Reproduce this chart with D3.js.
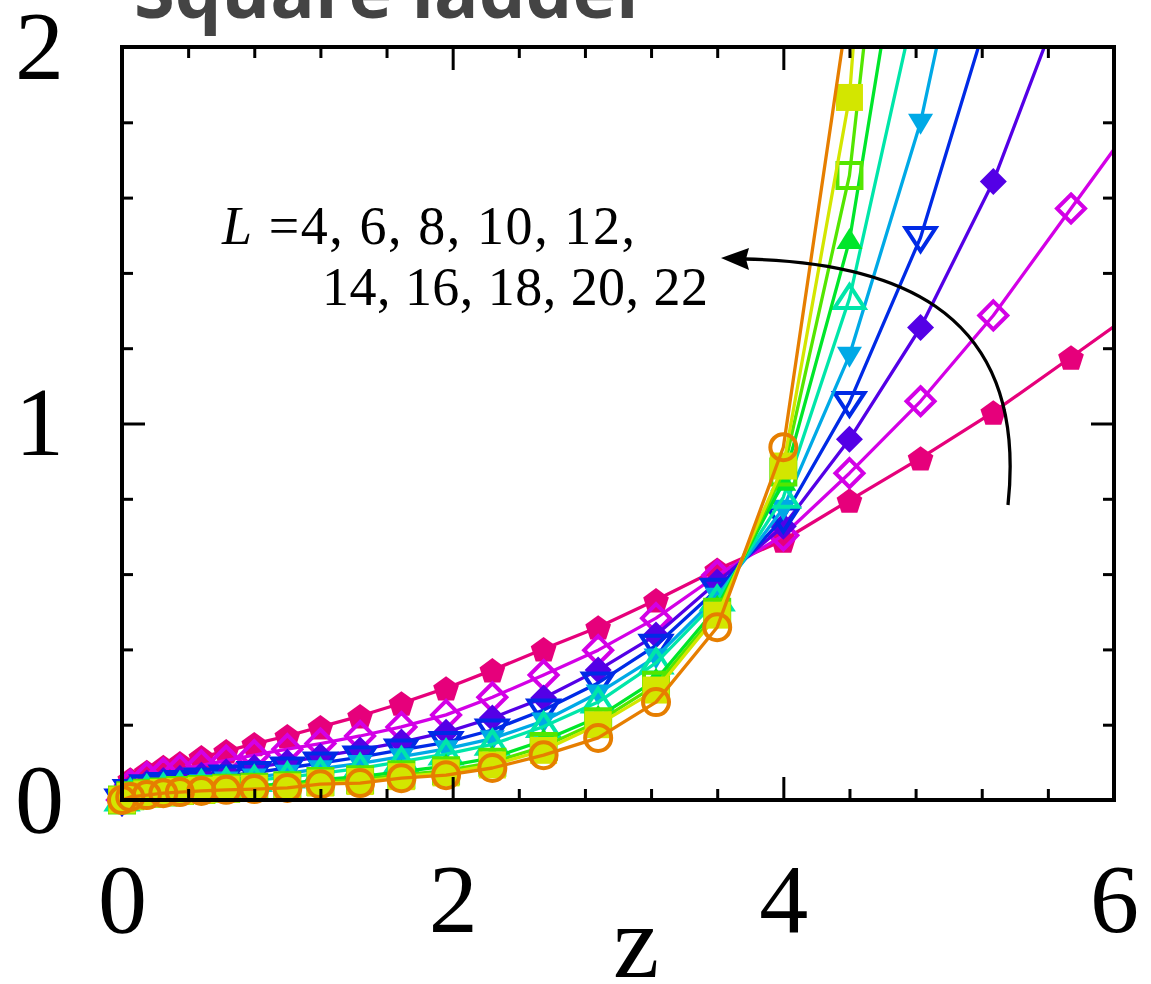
<!DOCTYPE html>
<html>
<head>
<meta charset="utf-8">
<script src="https://cdn.jsdelivr.net/npm/d3@7"></script>
<style>
  body { margin: 0; background: #fff; }
  svg { display: block; }
</style>
</head>
<body>
<svg id="chart" width="1151" height="984"></svg>
<script>
// fugacity grid shared by every ladder width
const zValues = [0, 0.05, 0.15, 0.25, 0.35, 0.48, 0.63, 0.80, 1.00, 1.20, 1.44, 1.69,
                 1.96, 2.24, 2.55, 2.88, 3.23, 3.60, 4.00, 4.40, 4.83, 5.27, 5.74, 6.23];

// ladder sizes
const ladderSizes = [4, 6, 8, 10, 12, 14, 16, 18, 20, 22];

// one curve per ladder size (null = past the top of the frame)
const yL4  = [0, 0.055, 0.075, 0.088, 0.098, 0.114, 0.130, 0.149, 0.170, 0.194, 0.223, 0.257,
              0.297, 0.345, 0.401, 0.459, 0.531, 0.612, 0.690, 0.796, 0.908, 1.030, 1.176, 1.330];
const yL6  = [0, 0.040, 0.060, 0.071, 0.080, 0.092, 0.105, 0.119, 0.135, 0.150, 0.170, 0.194,
              0.226, 0.273, 0.332, 0.398, 0.483, 0.597, 0.703, 0.868, 1.059, 1.287, 1.571, 1.867];
const yL8  = [0, 0.030, 0.045, 0.052, 0.058, 0.066, 0.075, 0.086, 0.100, 0.116, 0.133, 0.154,
              0.180, 0.218, 0.271, 0.345, 0.438, 0.579, 0.727, 0.958, 1.255, 1.643, 2.187, null];
const yL10 = [0, 0.025, 0.038, 0.044, 0.049, 0.056, 0.064, 0.073, 0.085, 0.098, 0.114, 0.133,
              0.153, 0.186, 0.239, 0.311, 0.411, 0.560, 0.749, 1.056, 1.494, 2.130, null, null];
const yL12 = [0, 0.020, 0.031, 0.036, 0.040, 0.046, 0.053, 0.061, 0.071, 0.083, 0.097, 0.115,
              0.136, 0.163, 0.210, 0.284, 0.380, 0.541, 0.775, 1.181, 1.800, 2.700, null, null];
const yL14 = [0, 0.017, 0.027, 0.031, 0.035, 0.040, 0.046, 0.052, 0.061, 0.071, 0.084, 0.102,
              0.122, 0.148, 0.195, 0.260, 0.364, 0.531, 0.804, 1.332, 2.180, null, null, null];
const yL16 = [0, 0.013, 0.020, 0.024, 0.027, 0.030, 0.034, 0.038, 0.043, 0.054, 0.062, 0.075,
              0.090, 0.112, 0.158, 0.220, 0.319, 0.512, 0.844, 1.486, 2.640, null, null, null];
const yL18 = [0, 0.011, 0.018, 0.021, 0.025, 0.028, 0.031, 0.034, 0.038, 0.049, 0.054, 0.067,
              0.078, 0.100, 0.142, 0.208, 0.305, 0.499, 0.871, 1.659, 3.350, null, null, null];
const yL20 = [0, 0.010, 0.016, 0.020, 0.023, 0.026, 0.029, 0.031, 0.035, 0.045, 0.049, 0.062,
              0.072, 0.093, 0.132, 0.200, 0.292, 0.491, 0.887, 1.866, 4.400, null, null, null];
const yL22 = [0, 0.008, 0.013, 0.018, 0.021, 0.024, 0.027, 0.029, 0.032, 0.042, 0.045, 0.058,
              0.066, 0.085, 0.119, 0.165, 0.260, 0.459, 0.937, 2.130, null, null, null, null];

const seriesValues = [yL4, yL6, yL8, yL10, yL12, yL14, yL16, yL18, yL20, yL22];
const seriesColors = ["#e6007b", "#d300e6", "#5400e6", "#002ae6", "#00a9e6",
                      "#00e6a9", "#00e62a", "#54e600", "#d3e600", "#e67e00"];
const seriesShapes = ["pentagon", "diamond-open", "diamond", "tridown-open", "tridown",
                      "triup-open", "triup", "square-open", "square", "circle-open"];

const xTickMajor = [0, 2, 4, 6];
const yTickMajor = [0, 1, 2];
const xTickMinor = d3.range(0, 16).map(i => +(i * 0.4).toFixed(1)).filter(v => v <= 6 && xTickMajor.indexOf(v) < 0);
const yTickMinor = d3.range(0, 11).map(i => +(i * 0.2).toFixed(1)).filter(v => yTickMajor.indexOf(v) < 0);

const svg = d3.select("#chart");
const plotLeft = 122, plotRight = 1114, plotTop = 47, plotBottom = 800;

const x = d3.scaleLinear().domain([0, 6]).range([plotLeft, plotRight]);
const y = d3.scaleLinear().domain([0, 2]).range([plotBottom, plotTop]);

// title, mostly above the top edge of the canvas
svg.append("text")
  .attr("x", 134).attr("y", 18)
  .attr("font-family", "'Open Sans', sans-serif")
  .attr("font-weight", 700)
  .attr("font-size", 74)
  .attr("fill", "#444")
  .text("Square ladder");

svg.append("defs").append("clipPath").attr("id", "plot-clip")
  .append("rect").attr("x", plotLeft).attr("y", plotTop)
  .attr("width", plotRight - plotLeft).attr("height", plotBottom - plotTop);

// marker outlines, centred on the data point
function markerPath(shape) {
  switch (shape) {
    case "pentagon": {
      const r = 13.5;
      return "M" + d3.range(5).map(k => {
        const a = -Math.PI / 2 + k * 2 * Math.PI / 5;
        return [r * Math.cos(a), r * Math.sin(a) + 1.5];
      }).join("L") + "Z";
    }
    case "diamond-open": return "M0,-14L14,0L0,14L-14,0Z";
    case "diamond": return "M0,-13.5L13.5,0L0,13.5L-13.5,0Z";
    case "tridown-open": return "M-15,-9.5L15,-9.5L0,13.5Z";
    case "tridown": return "M-12.5,-8.5L12.5,-8.5L0,12.5Z";
    case "triup-open": return "M-15,9.5L15,9.5L0,-13.5Z";
    case "triup": return "M-13,8.5L13,8.5L0,-12.5Z";
    case "square-open": return "M-12,-12.5L12,-12.5L12,12.5L-12,12.5Z";
    case "square": return "M-13.5,-13.5L13.5,-13.5L13.5,13.5L-13.5,13.5Z";
    case "circle-open": return "M13,0A13,13 0 1,1 -13,0A13,13 0 1,1 13,0Z";
  }
}

const line = d3.line()
  .defined(d => d.v !== null)
  .x(d => x(d.z))
  .y(d => y(d.v));

seriesValues.forEach((vals, i) => {
  const pts = zValues.map((z, j) => ({ z: z, v: vals[j] }));
  const color = seriesColors[i];
  const shape = seriesShapes[i];
  const open = shape.endsWith("-open");
  const g = svg.append("g").attr("class", "series L" + ladderSizes[i]);

  g.append("path")
    .datum(pts)
    .attr("clip-path", "url(#plot-clip)")
    .attr("fill", "none")
    .attr("stroke", color)
    .attr("stroke-width", 3.3)
    .attr("stroke-linejoin", "round")
    .attr("d", line);

  g.selectAll("path.mk")
    .data(pts.filter(d => d.v !== null && d.v <= 2 && d.z <= 6))
    .join("path")
    .attr("class", "mk")
    .attr("transform", d => `translate(${x(d.z)},${y(d.v)})`)
    .attr("d", markerPath(shape))
    .attr("fill", open ? "none" : color)
    .attr("stroke", open ? color : "none")
    .attr("stroke-width", open ? 4 : 0);
});

// frame
svg.append("rect")
  .attr("x", plotLeft).attr("y", plotTop)
  .attr("width", plotRight - plotLeft).attr("height", plotBottom - plotTop)
  .attr("fill", "none").attr("stroke", "#000").attr("stroke-width", 4);

// inward ticks on all four sides
function tickAxis(axis, tx, ty, values, len) {
  const g = svg.append("g")
    .attr("transform", `translate(${tx},${ty})`)
    .call(axis.tickValues(values).tickSize(-len).tickFormat(""));
  g.select(".domain").remove();
  g.selectAll(".tick line").attr("stroke", "#000").attr("stroke-width", 3);
}
[[xTickMinor, 11], [xTickMajor, 23]].forEach(([v, l]) => {
  tickAxis(d3.axisBottom(x), 0, plotBottom, v, l);
  tickAxis(d3.axisTop(x), 0, plotTop, v, l);
});
[[yTickMinor, 11], [yTickMajor, 23]].forEach(([v, l]) => {
  tickAxis(d3.axisLeft(y), plotLeft, 0, v, l);
  tickAxis(d3.axisRight(y), plotRight, 0, v, l);
});

// tick labels
const labelFont = "'Liberation Serif', 'Times New Roman', serif";
const xl = svg.append("g")
  .attr("transform", `translate(0,${plotBottom})`)
  .call(d3.axisBottom(x).tickValues(xTickMajor).tickSize(0).tickPadding(62).tickFormat(d3.format("d")));
xl.select(".domain").remove();
xl.selectAll("text").attr("font-family", labelFont).attr("font-size", 98).attr("fill", "#000");

const yl = svg.append("g")
  .attr("transform", `translate(${plotLeft},0)`)
  .call(d3.axisLeft(y).tickValues(yTickMajor).tickSize(0).tickPadding(58).tickFormat(d3.format("d")));
yl.select(".domain").remove();
yl.selectAll("text").attr("font-family", labelFont).attr("font-size", 98).attr("fill", "#000");

// axis title
svg.append("text")
  .attr("x", 636).attr("y", 977)
  .attr("text-anchor", "middle")
  .attr("font-family", labelFont)
  .attr("font-size", 104)
  .text("z");

// annotation listing the ladder sizes
const note = svg.append("g").attr("font-family", labelFont).attr("font-size", 54).attr("fill", "#000");
const l1 = note.append("text").attr("x", 222).attr("y", 244)
  .attr("textLength", 413).attr("lengthAdjust", "spacing");
l1.append("tspan").attr("font-style", "italic").text("L");
l1.append("tspan").text(" =" + ladderSizes.slice(0, 5).join(", ") + ",");
note.append("text").attr("x", 322).attr("y", 305)
  .attr("textLength", 386).attr("lengthAdjust", "spacing")
  .text(ladderSizes.slice(5).join(", "));

// curved arrow showing the direction of increasing L
svg.append("path")
  .attr("d", "M1008,505 C1030,300 880,262 745,259")
  .attr("fill", "none").attr("stroke", "#000").attr("stroke-width", 3.3);
svg.append("path")
  .attr("d", "M721,258 L749,248 L746,259 L749,270 Z")
  .attr("fill", "#000");
</script>
</body>
</html>
